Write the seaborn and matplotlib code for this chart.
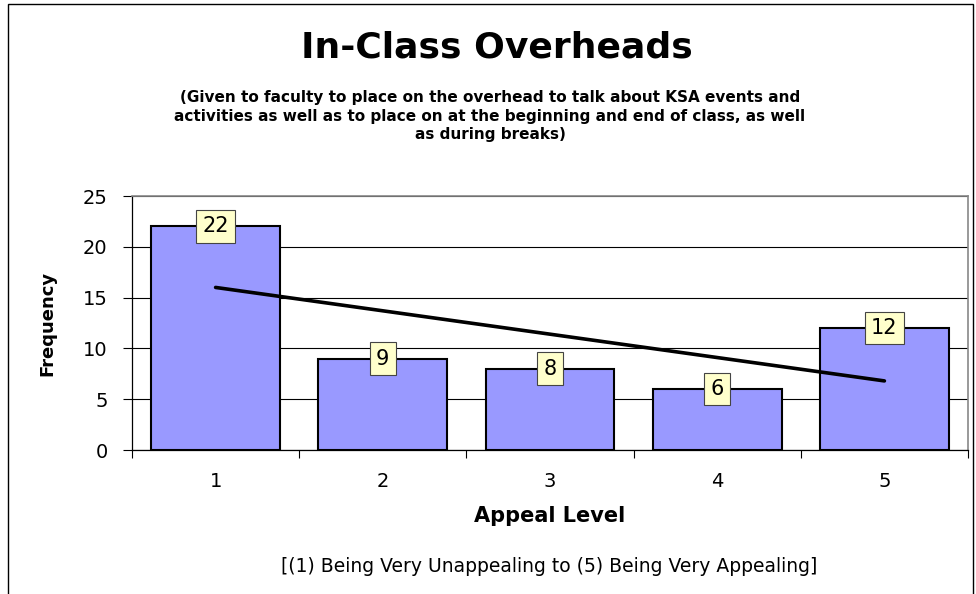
#!/usr/bin/env python3
# In-Class Overheads appeal survey - bar chart with linear trend line

import numpy as np
import pandas as pd
import matplotlib
matplotlib.use("Agg")
import matplotlib.pyplot as plt
from matplotlib.patches import Rectangle
import seaborn as sns

# Data
appeal_levels = ["1", "2", "3", "4", "5"]
frequencies = [22, 9, 8, 6, 12]
y_ticks = [0, 5, 10, 15, 20, 25]

title = "In-Class Overheads"
subtitle = ("(Given to faculty to place on the overhead to talk about KSA events and\n"
            "activities as well as to place on at the beginning and end of class, as well\n"
            "as during breaks)")
note = "[(1) Being Very Unappealing to (5) Being Very Appealing]"

df = pd.DataFrame({"Appeal Level": appeal_levels, "Frequency": frequencies})

sns.set_style("white")
plt.rcParams["font.family"] = ["DejaVu Sans"]
plt.rcParams["text.color"] = "black"
plt.rcParams["axes.labelcolor"] = "black"
plt.rcParams["xtick.color"] = "black"
plt.rcParams["ytick.color"] = "black"

fig = plt.figure(figsize=(9.76, 5.94), dpi=100)
ax = fig.add_axes([132 / 976, 1 - 450 / 594, (968 - 132) / 976, (450 - 196) / 594])

sns.barplot(data=df, x="Appeal Level", y="Frequency", color="#9999FF",
            saturation=1, width=0.77, edgecolor="black", linewidth=1.5,
            ax=ax, zorder=2)

# linear trend line through the bar centres
pos = np.arange(len(frequencies))
slope, intercept = np.polyfit(pos + 1, frequencies, 1)
ax.plot(pos, slope * (pos + 1) + intercept, color="black", lw=2.6,
        solid_capstyle="round", zorder=3)

# value labels (kept inside the plot area, like Excel does)
for i, v in enumerate(frequencies):
    ax.text(i, min(v, 23.0), str(v), ha="center", va="center", fontsize=15,
            zorder=5,
            bbox=dict(boxstyle="square,pad=0.3", facecolor="#FFFFCC",
                      edgecolor="#444444", linewidth=0.8))

ax.set_xlim(-0.5, len(frequencies) - 0.5)
ax.set_ylim(0, 25)
ax.set_yticks(y_ticks)
ax.set_yticklabels([str(t) for t in y_ticks], fontsize=14)
ax.yaxis.grid(True, color="black", linewidth=0.8, zorder=0)
ax.set_axisbelow(True)

# x ticks on category boundaries, labels centred under bars
ax.set_xticks(np.arange(-0.5, len(frequencies), 1.0))
ax.set_xticklabels([])
ax.set_xticks(pos, minor=True)
ax.set_xticklabels(appeal_levels, minor=True, fontsize=14)
ax.tick_params(axis="x", which="major", direction="out", length=6,
               width=0.8, color="black", bottom=True)
ax.tick_params(axis="x", which="minor", length=0, pad=16)
ax.tick_params(axis="y", direction="out", length=6.5, width=0.8,
               color="black", left=True, pad=11)

for side in ["left", "bottom"]:
    ax.spines[side].set_color("black")
    ax.spines[side].set_linewidth(0.9)
for side in ["top", "right"]:
    ax.spines[side].set_visible(True)
    ax.spines[side].set_color("#888888")
    ax.spines[side].set_linewidth(1.2)

ax.set_xlabel("Appeal Level", fontsize=15, fontweight="bold")
ax.set_ylabel("Frequency", fontsize=13, fontweight="bold")
ax.xaxis.set_label_coords(0.5, -0.222)
ax.yaxis.set_label_coords(-0.09, 0.5)

fig.text(0.509, 1 - 58 / 594, title, ha="center", va="baseline",
         fontsize=26, fontweight="bold")
fig.text(0.502, 1 - 116 / 594, subtitle, ha="center", va="center",
         fontsize=11, fontweight="bold", linespacing=1.27)
fig.text(0.5625, 1 - 572 / 594, note, ha="center", va="baseline", fontsize=13.5)

# outer chart frame
fig.patches.append(Rectangle((8 / 976, -0.05), (973 - 8) / 976, 1.05 - 4 / 594,
                             transform=fig.transFigure, fill=False,
                             edgecolor="black", linewidth=1.0))

fig.savefig("out.png", dpi=100, facecolor="white")
